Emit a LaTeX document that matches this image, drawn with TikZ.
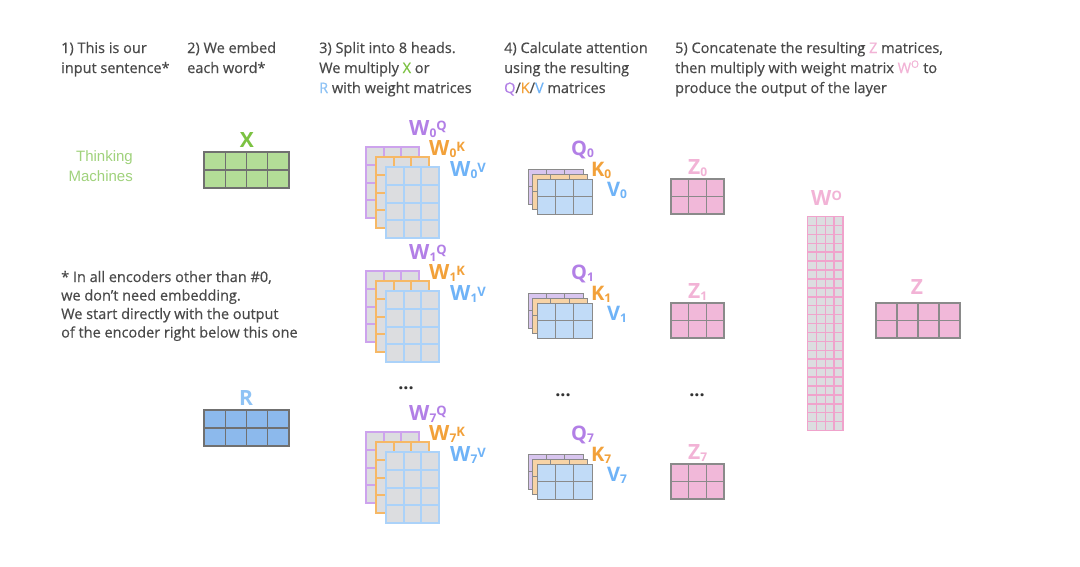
\documentclass[tikz,border=0pt]{standalone}
\usepackage{fontspec}
\setmainfont{Open Sans}[UprightFeatures={FakeBold=0.5}]
\newfontfamily\helv{Liberation Sans}
\usepackage{xcolor}
\usepackage{tikz}

\definecolor{txtgray}{HTML}{4A4A4A}
\definecolor{tmgreen}{HTML}{A0D27C}
\definecolor{xgreen}{HTML}{7CC242}
\definecolor{xfill}{HTML}{B3DD97}
\definecolor{rblue}{HTML}{8FC3F5}
\definecolor{rfill}{HTML}{8CB9EC}
\definecolor{gridgray}{HTML}{707070}
\definecolor{qgrid}{HTML}{8A8A8A}
\definecolor{wpurple}{HTML}{B27FE6}
\definecolor{wpgrid}{HTML}{CDA3ED}
\definecolor{worange}{HTML}{F2A13A}
\definecolor{wogrid}{HTML}{F6B866}
\definecolor{wblue}{HTML}{6FB3F7}
\definecolor{wbgrid}{HTML}{ABD2F9}
\definecolor{wfill}{HTML}{DCDDE0}
\definecolor{qfill}{HTML}{D8C5EF}
\definecolor{kfill}{HTML}{F7D3A6}
\definecolor{vfill}{HTML}{C1DBF7}
\definecolor{zfill}{HTML}{F1B8D9}
\definecolor{zpink}{HTML}{F2B3D6}
\definecolor{wopink}{HTML}{F0A3CC}
\definecolor{dotgray}{HTML}{333333}

\newcommand\subx[1]{\raisebox{-2pt}{\fontsize{12}{12}\selectfont #1}}
\newcommand\supx[1]{\raisebox{4.5pt}{\fontsize{13}{13}\selectfont #1}}

\begin{document}
\begin{tikzpicture}[
  x=1pt, y=-1pt,
  txt/.style ={font=\fontsize{14.5}{20}\selectfont, text=txtgray, align=left,
               inner sep=0pt, anchor=base west},
  lbl/.style ={font=\fontsize{21}{21}\selectfont\bfseries, inner sep=0pt, anchor=base west},
  slbl/.style={lbl, font=\fontsize{20}{20}\selectfont\bfseries},
  dots/.style={font=\fontsize{18}{18}\selectfont\bfseries, text=dotgray, inner sep=0pt},
  wmat/.style={fill=wfill, draw=#1, line width=2pt},
  smat/.style={fill=#1, draw=qgrid, line width=1pt},
  zmat/.style={fill=zfill, draw=qgrid, line width=1.2pt},
  emat/.style={fill=#1, draw=gridgray, line width=1.2pt},
  pics/cells/.style n args={4}{code={
    \filldraw (0,0) rectangle (#1,#2);
    \foreach \i in {1,...,#3} \draw ({\i*#1/#3},0) -- ({\i*#1/#3},#2);
    \foreach \j in {1,...,#4} \draw (0,{\j*#2/#4}) -- (#1,{\j*#2/#4});
  }}
]
\path[use as bounding box, fill=white] (0,0) rectangle (1080,566);

% step texts (anchored at the baseline of their last line)
\node[txt] (step1) at (61,73)  {1) This is our\\input sentence*};
\node[txt] (step2) at (187,73) {2) We embed\\each word*};
\node[txt] (step3) at (319,93) {3) Split into 8 heads.\\We multiply \textcolor{xgreen}{X} or\\\textcolor{rblue}{R} with weight matrices};
\node[txt] (step4) at (504,93) {4) Calculate attention\\using the resulting\\\textcolor{wpurple}{Q}/\textcolor{worange}{K}/\textcolor{wblue}{V} matrices};
\node[txt] (step5) at (675,93) {5) Concatenate the resulting \textcolor{zpink}{Z} matrices,\\then multiply with weight matrix \textcolor{zpink}{W\textsuperscript{O}} to\\produce the output of the layer};
\node[txt, font=\fontsize{14.5}{18.5}\selectfont] (note) at (61,337.5)
  {* In all encoders other than \#0,\\we don’t need embedding.\\We start directly with the output\\of the encoder right below this one};

% input sentence and embeddings
\node[font=\helv\fontsize{15}{20}\selectfont, text=tmgreen, align=right,
      inner sep=0pt, anchor=base east] (sent) at (133,181) {Thinking\\Machines};
\node[lbl, anchor=base, text=xgreen] (xlbl) at (247,147) {X};
\pic[emat=xfill] at (204,152) {cells={85}{36}{4}{2}};
\node[lbl, anchor=base, text=rblue] (rlbl) at (246,405) {R};
\pic[emat=rfill] at (204,410) {cells={85}{36}{4}{2}};

% heads
\foreach \h/\dy in {0/0,1/124,7/285}{
  \pic[wmat=wpgrid] at (366,147+\dy) {cells={53}{71}{3}{4}};
  \pic[wmat=wogrid] at (376,157+\dy) {cells={53}{71}{3}{4}};
  \pic[wmat=wbgrid] at (386,167+\dy) {cells={53}{71}{3}{4}};
  \node[lbl, text=wpurple] (wq\h) at (409,135+\dy) {W\subx{\h}\supx{Q}};
  \node[lbl, text=worange] (wk\h) at (429,155.5+\dy) {W\subx{\h}\supx{K}};
  \node[lbl, text=wblue]   (wv\h) at (450,176.5+\dy) {W\subx{\h}\supx{V}};
  \pic[smat=qfill] at (528,169+\dy)   {cells={55}{35}{3}{2}};
  \pic[smat=kfill] at (532.5,174+\dy) {cells={55}{35}{3}{2}};
  \pic[smat=vfill] at (537,179+\dy)   {cells={55}{35}{3}{2}};
  \node[slbl, text=wpurple] (q\h) at (571,155+\dy) {Q\subx{\h}};
  \node[slbl, text=worange] (k\h) at (591,176+\dy) {K\subx{\h}};
  \node[slbl, text=wblue]   (v\h) at (607,196+\dy) {V\subx{\h}};
  \pic[zmat] at (671,179+\dy) {cells={53}{35}{3}{2}};
  \node[lbl, text=zpink] (z\h) at (688,174+\dy) {Z\subx{\h}};
}
\node[dots] (wdots) at (406,388) {...};
\node[dots] (qdots) at (563,395) {...};
\node[dots] (zdots) at (697,395) {...};

% output projection
\node[lbl, text=zpink] (wolbl) at (811,205) {W\supx{O}};
\pic[fill=wfill, draw=wopink, line width=1.5pt] at (807.5,216.5) {cells={35.5}{214}{4}{24}};
\node[lbl, anchor=base, text=zpink] (zlbl) at (917,294) {Z};
\pic[zmat] at (876,303) {cells={84}{35}{4}{2}};
\end{tikzpicture}
\end{document}
